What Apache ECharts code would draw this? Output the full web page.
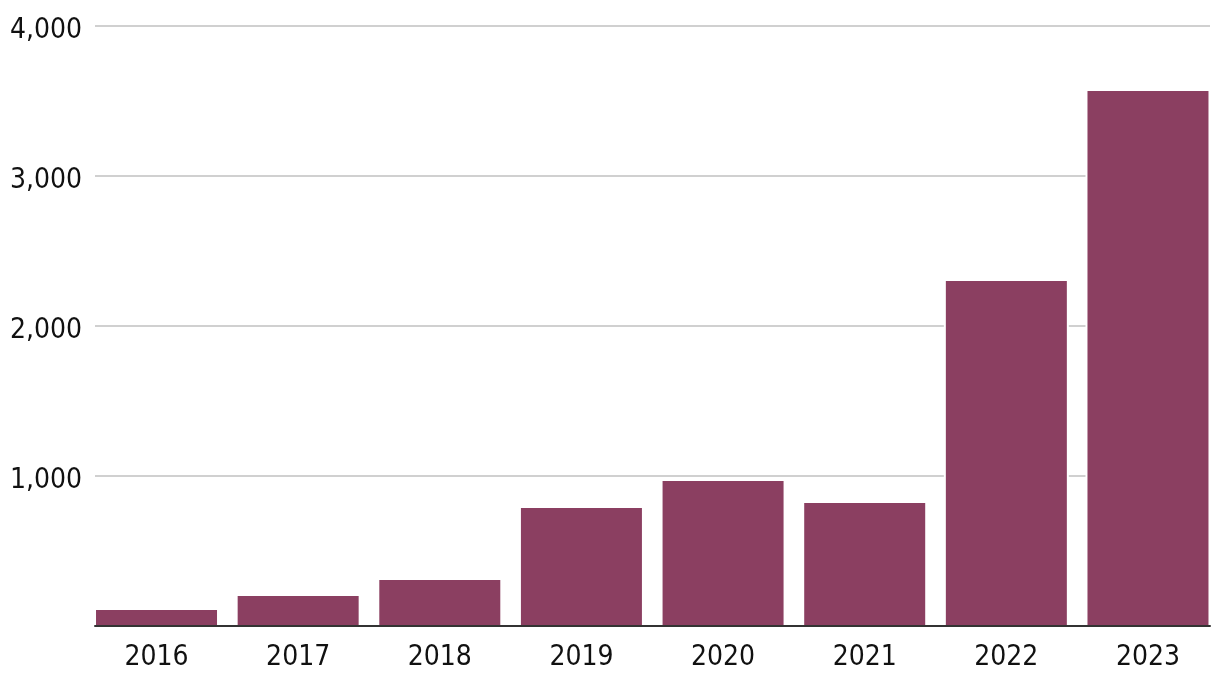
<!DOCTYPE html>
<html>
<head>
<meta charset="utf-8">
<script src="https://cdn.jsdelivr.net/npm/echarts@6/dist/echarts.min.js"></script>
<style>html,body{margin:0;padding:0;background:#fff}#chart{width:1220px;height:688px}</style>
</head>
<body>
<div id="chart"></div>
<script>
const years = ['2016', '2017', '2018', '2019', '2020', '2021', '2022', '2023'];
const values = [107, 200, 307, 787, 967, 820, 2300, 3567];
const yMin = 0;
const yMax = 4000;
const yStep = 1000;

const FONT = 'DejaVu Sans Condensed, DejaVu Sans, sans-serif';

const chart = echarts.init(document.getElementById('chart'), null, {renderer: 'canvas'});
chart.setOption({
  animation: false,
  backgroundColor: '#ffffff',
  grid: [
    {left: 95, right: 10, top: 26, bottom: 62},
    {left: 85.7, right: 1.2, top: 26, bottom: 62},
    {left: 85.7, right: 1.2, top: 26, bottom: 62}
  ],
  xAxis: [
    {
      type: 'category', gridIndex: 0, data: years, z: 10,
      axisLine: {lineStyle: {color: '#333333', width: 2}},
      axisTick: {show: false}, axisLabel: {show: false}, splitLine: {show: false}
    },
    {
      type: 'category', gridIndex: 1, data: years,
      axisLine: {show: false}, axisTick: {show: false}, splitLine: {show: false},
      axisLabel: {fontFamily: FONT, fontSize: 28, color: '#111111', margin: 18}
    },
    {type: 'category', gridIndex: 2, data: years, show: false}
  ],
  yAxis: [
    {
      type: 'value', gridIndex: 0, min: yMin, max: yMax, interval: yStep,
      axisLine: {show: false}, axisTick: {show: false},
      splitLine: {lineStyle: {color: '#d0d0d0', width: 2}},
      axisLabel: {
        align: 'left', verticalAlign: 'top', lineHeight: 10,
        margin: 85, fontFamily: FONT, fontSize: 28, color: '#111111',
        formatter: v => v === 0 ? '' : v.toLocaleString('en-US')
      }
    },
    {type: 'value', gridIndex: 1, min: yMin, max: yMax, show: false},
    {type: 'value', gridIndex: 2, min: yMin, max: yMax, show: false}
  ],
  series: [
    {
      // white halo behind each bar, interrupting the gridlines next to the bars
      type: 'bar', xAxisIndex: 2, yAxisIndex: 2, data: values, barWidth: 125,
      itemStyle: {color: '#ffffff'}, silent: true
    },
    {
      type: 'bar', xAxisIndex: 1, yAxisIndex: 1, data: values, barWidth: 121,
      itemStyle: {color: '#8b3f61'}
    }
  ]
});
</script>
</body>
</html>
